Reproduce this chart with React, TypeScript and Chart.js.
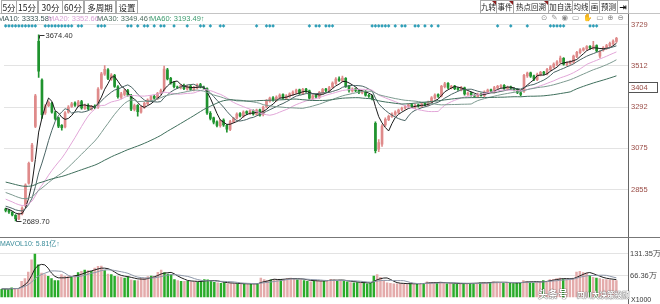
import React, { useEffect, useRef } from "react";
import { Chart, registerables } from "chart.js";

Chart.register(...registerables);

// ---------------- data ----------------
// closes before the visible window (used only to warm up the moving averages)
const priorCloses = [
  2980, 2992, 2975, 2986, 2970, 2978, 2965, 2972, 2960, 2968,
  2955, 2962, 2950, 2958, 2946, 2952, 2940, 2948, 2936, 2944,
  2932, 2940, 2928, 2936, 2924, 2932, 2920, 2928, 2916, 2922,
  2930, 2918, 2925, 2912, 2918, 2905, 2910, 2898, 2905, 2892,
  2880, 2868, 2872, 2855, 2846, 2838, 2830, 2820, 2812, 2800,
  2792, 2785, 2778, 2770, 2775, 2762, 2768, 2756, 2750,
];

const opens = [
  2752, 2746, 2736, 2720, 2700, 2728, 2770, 2890, 3010, 3190,
  3640, 3436, 3262, 3300, 3312, 3262, 3236, 3196, 3188, 3266,
  3296, 3314, 3300, 3322, 3286, 3302, 3282, 3298, 3292, 3392,
  3466, 3490, 3440, 3460, 3400, 3344, 3360, 3380, 3354, 3280,
  3302, 3266, 3292, 3310, 3328, 3350, 3338, 3366, 3384, 3490,
  3444, 3422, 3398, 3394, 3408, 3388, 3404, 3384, 3394, 3412,
  3398, 3390, 3260, 3236, 3214, 3194, 3224, 3196, 3174, 3214,
  3234, 3258, 3244, 3268, 3258, 3274, 3254, 3278, 3252, 3294,
  3324, 3342, 3328, 3344, 3358, 3338, 3350, 3360, 3370, 3384,
  3364, 3388, 3378, 3338, 3354, 3344, 3368, 3388, 3378, 3398,
  3418, 3442, 3432, 3444, 3404, 3378, 3390, 3382, 3368, 3376,
  3354, 3352, 3206, 3070, 3096, 3198, 3226, 3242, 3254, 3264,
  3280, 3288, 3296, 3306, 3290, 3304, 3296, 3312, 3304, 3320,
  3340, 3358, 3352, 3400, 3418, 3394, 3404, 3392, 3384, 3394,
  3360, 3368, 3354, 3348, 3362, 3354, 3370, 3384, 3374, 3394,
  3400, 3408, 3388, 3400, 3390, 3386, 3368, 3376, 3458, 3474,
  3458, 3438, 3464, 3478, 3468, 3490, 3504, 3518, 3530, 3550,
  3518, 3524, 3530, 3560, 3580, 3594, 3600, 3614, 3604, 3618,
  3562, 3594, 3604, 3616, 3628, 3640,
];

const highs = [
  2758, 2750, 2740, 2724, 2732, 2764, 2886, 3002, 3100, 3360,
  3674.4, 3442, 3306, 3326, 3318, 3270, 3240, 3200, 3268, 3300,
  3318, 3320, 3328, 3328, 3308, 3310, 3302, 3304, 3396, 3476,
  3512, 3496, 3470, 3466, 3406, 3370, 3386, 3386, 3360, 3308,
  3306, 3296, 3318, 3336, 3354, 3356, 3370, 3388, 3510, 3498,
  3450, 3428, 3404, 3412, 3414, 3408, 3410, 3402, 3416, 3418,
  3404, 3394, 3268, 3240, 3220, 3228, 3230, 3200, 3222, 3238,
  3262, 3264, 3272, 3272, 3278, 3278, 3282, 3282, 3298, 3332,
  3346, 3348, 3352, 3362, 3362, 3358, 3368, 3378, 3388, 3388,
  3392, 3392, 3382, 3358, 3358, 3376, 3392, 3392, 3402, 3426,
  3448, 3452, 3456, 3448, 3408, 3394, 3394, 3386, 3380, 3380,
  3360, 3356, 3215, 3120, 3200, 3236, 3250, 3262, 3272, 3282,
  3292, 3300, 3310, 3312, 3308, 3308, 3316, 3318, 3324, 3348,
  3362, 3362, 3408, 3424, 3422, 3408, 3408, 3396, 3402, 3398,
  3372, 3372, 3358, 3366, 3366, 3378, 3388, 3388, 3402, 3408,
  3412, 3412, 3404, 3404, 3394, 3390, 3372, 3466, 3478, 3478,
  3462, 3472, 3482, 3482, 3498, 3512, 3526, 3538, 3562, 3554,
  3532, 3538, 3568, 3588, 3602, 3608, 3618, 3618, 3640, 3622,
  3592, 3612, 3624, 3636, 3648, 3662,
];

const lows = [
  2738, 2730, 2716, 2689.7, 2696, 2722, 2764, 2884, 3004, 3184,
  3450, 3232, 3254, 3294, 3260, 3224, 3184, 3170, 3182, 3260,
  3290, 3296, 3294, 3282, 3280, 3278, 3276, 3284, 3286, 3386,
  3460, 3438, 3434, 3396, 3340, 3336, 3352, 3350, 3274, 3272,
  3244, 3260, 3286, 3304, 3322, 3334, 3332, 3360, 3378, 3436,
  3414, 3394, 3390, 3388, 3384, 3382, 3380, 3378, 3388, 3394,
  3386, 3254, 3224, 3204, 3188, 3186, 3190, 3160, 3168, 3208,
  3228, 3240, 3238, 3252, 3252, 3250, 3248, 3244, 3246, 3288,
  3318, 3324, 3322, 3338, 3334, 3332, 3344, 3354, 3364, 3360,
  3358, 3370, 3334, 3332, 3340, 3338, 3362, 3374, 3372, 3392,
  3412, 3428, 3426, 3396, 3372, 3372, 3374, 3364, 3362, 3350,
  3344, 3330, 3050, 3056, 3084, 3190, 3220, 3238, 3248, 3258,
  3274, 3282, 3290, 3290, 3284, 3292, 3290, 3300, 3298, 3314,
  3334, 3344, 3346, 3394, 3390, 3388, 3384, 3380, 3378, 3356,
  3354, 3350, 3344, 3342, 3350, 3348, 3364, 3370, 3368, 3388,
  3394, 3384, 3382, 3386, 3378, 3364, 3352, 3370, 3450, 3450,
  3432, 3432, 3458, 3462, 3462, 3484, 3498, 3512, 3524, 3514,
  3512, 3518, 3524, 3554, 3574, 3588, 3594, 3598, 3598, 3584,
  3552, 3588, 3598, 3610, 3622, 3634,
];

const closes = [
  2745, 2738, 2722, 2702, 2726, 2758, 2880, 2995, 3092, 3352,
  3482, 3252, 3298, 3318, 3266, 3232, 3192, 3184, 3262, 3292,
  3310, 3302, 3320, 3288, 3300, 3284, 3296, 3290, 3388, 3468,
  3492, 3444, 3462, 3402, 3348, 3362, 3378, 3356, 3282, 3300,
  3268, 3290, 3312, 3330, 3348, 3340, 3365, 3380, 3494, 3442,
  3420, 3400, 3396, 3406, 3390, 3402, 3386, 3396, 3410, 3400,
  3394, 3262, 3232, 3212, 3196, 3222, 3198, 3176, 3216, 3232,
  3256, 3246, 3266, 3260, 3272, 3256, 3276, 3250, 3292, 3326,
  3340, 3330, 3346, 3356, 3340, 3352, 3362, 3372, 3382, 3366,
  3386, 3376, 3340, 3352, 3346, 3370, 3386, 3380, 3396, 3420,
  3440, 3434, 3446, 3402, 3380, 3388, 3380, 3370, 3374, 3356,
  3350, 3336, 3062, 3104, 3192, 3228, 3244, 3256, 3266, 3276,
  3286, 3294, 3304, 3296, 3302, 3298, 3310, 3306, 3318, 3342,
  3356, 3350, 3402, 3416, 3396, 3402, 3390, 3386, 3396, 3362,
  3366, 3356, 3350, 3360, 3356, 3372, 3382, 3376, 3396, 3402,
  3406, 3390, 3398, 3392, 3384, 3370, 3360, 3460, 3472, 3456,
  3440, 3466, 3476, 3470, 3492, 3506, 3520, 3532, 3552, 3520,
  3526, 3532, 3562, 3582, 3596, 3602, 3612, 3606, 3616, 3590,
  3588, 3606, 3618, 3630, 3642, 3656,
];

// volume in 万 (axis units)
const volumes = [
  26, 26, 25, 30, 27, 28, 50, 58, 78, 115,
  132, 100, 75, 70, 65, 58, 52, 52, 70, 65,
  64, 63, 67, 76, 80, 84, 82, 80, 90, 95,
  96, 82, 72, 70, 65, 64, 63, 60, 63, 54,
  52, 52, 58, 60, 64, 66, 65, 77, 84, 76,
  72, 70, 55, 52, 50, 50, 50, 48, 48, 47,
  50, 55, 54, 50, 47, 45, 44, 46, 42, 43,
  42, 42, 40, 42, 41, 42, 40, 42, 60, 55,
  52, 54, 55, 56, 55, 56, 58, 60, 56, 54,
  55, 52, 50, 48, 50, 52, 50, 50, 52, 56,
  54, 50, 52, 50, 48, 46, 45, 46, 44, 45,
  42, 44, 66, 70, 62, 52, 45, 44, 42, 42,
  43, 42, 40, 42, 41, 42, 44, 42, 48, 46,
  45, 44, 46, 45, 42, 43, 42, 41, 42, 43,
  42, 44, 43, 44, 45, 46, 44, 47, 48, 46,
  45, 44, 46, 44, 43, 44, 45, 52, 50, 46,
  45, 47, 48, 52, 50, 55, 56, 58, 60, 56,
  55, 54, 60, 78, 80, 76, 75, 68, 62, 60,
  58, 56, 55, 54, 53, 52,
];

// sessions carrying a signal diamond in the top strip
const signalDays = [
  0, 1, 2, 3, 4, 5, 6, 7, 8, 9, 12, 13, 14, 15, 16, 17, 18, 19, 20, 22, 23,
  28, 29, 30, 37, 38, 40, 42, 43, 45, 47, 48, 51, 55, 59, 60, 62, 65, 66, 76,
  79, 80, 81, 92, 94, 95, 97, 98, 99, 111, 112, 113, 114, 115, 116, 118, 120,
  121, 124, 125, 127, 129, 131, 149, 153, 158, 165, 166, 167, 168, 169, 177,
  178, 179,
];
const signalLevel = 3722;

const priceTicks = [2855, 3075, 3292, 3512, 3729];
const volumeTicks = [66.36, 131.35];
const emptyTrailingSlots = 3;
const sessionLabels = Array.from(
  { length: closes.length + emptyTrailingSlots },
  (_, i) => `T${i + 1}`
);

const maLegend = [
  { label: "MA10", value: "3333.58", color: "#3d5656", x: -2 },
  { label: "MA20", value: "3352.66", color: "#d9a3d6", x: 48 },
  { label: "MA30", value: "3349.46", color: "#4e6e60", x: 97 },
  { label: "MA60", value: "3193.49", color: "#3a9a6c", x: 150 },
];

// ---------------- helpers ----------------
function movingAverage(all: number[], period: number, offset: number, count: number) {
  const out: number[] = [];
  for (let i = 0; i < count; i++) {
    const end = offset + i;
    let s = 0;
    for (let k = end - period + 1; k <= end; k++) s += all[k];
    out.push(s / period);
  }
  return out;
}
function runningAverage(values: number[], period: number) {
  return values.map((_, i) => {
    const start = Math.max(0, i - period + 1);
    const slice = values.slice(start, i + 1);
    return slice.reduce((a, b) => a + b, 0) / slice.length;
  });
}

const UP = "#df8a8a";
const DOWN = "#1f932e";
const VOL_UP = "#e4abab";
const VOL_DOWN = "#2aab2a";
const isUp = (i: number) => closes[i] >= opens[i];

const leftButtons = [
  { t: "5分", x: 1, w: 16 },
  { t: "15分", x: 16, w: 22 },
  { t: "30分", x: 38, w: 25 },
  { t: "60分", x: 62, w: 22 },
  { t: "多周期", x: 84, w: 32 },
  { t: "设置", x: 116, w: 22 },
];
const rightButtons = [
  { t: "九转", x: 480, w: 17, flag: true },
  { t: "事件", x: 496, w: 18, flag: true },
  { t: "热点回溯", x: 513, w: 36, flag: true },
  { t: "加自选", x: 548, w: 25, flag: false },
  { t: "均线", x: 572, w: 18, flag: false },
  { t: "画", x: 589, w: 11, flag: false },
  { t: "预测", x: 599, w: 19, flag: false },
];

export default function App() {
  const priceRef = useRef<HTMLCanvasElement | null>(null);
  const volRef = useRef<HTMLCanvasElement | null>(null);

  useEffect(() => {
    document.body.style.margin = "0";
    Chart.defaults.font.family = '"Liberation Sans", Arial, sans-serif';

    const allCloses = [...priorCloses, ...closes];
    const off = priorCloses.length;
    const n = closes.length;
    const ma5 = movingAverage(allCloses, 5, off, n);
    const ma10 = movingAverage(allCloses, 10, off, n);
    const ma20 = movingAverage(allCloses, 20, off, n);
    const ma30 = movingAverage(allCloses, 30, off, n);
    const ma60 = movingAverage(allCloses, 60, off, n);
    const markers = closes.map((_, i) => (signalDays.includes(i) ? signalLevel : null));

    const extremesPlugin = {
      id: "extremes",
      afterDatasetsDraw(chart: any) {
        const { ctx, scales } = chart;
        const xs = scales.x;
        const ys = scales.y;
        let hi = 0;
        let lo = 0;
        highs.forEach((h, i) => { if (h > highs[hi]) hi = i; });
        lows.forEach((l, i) => { if (l < lows[lo]) lo = i; });
        ctx.save();
        ctx.strokeStyle = "#333";
        ctx.fillStyle = "#333";
        ctx.lineWidth = 1;
        ctx.font = '7.5px "Liberation Sans", Arial, sans-serif';
        ctx.textBaseline = "middle";
        const hx = Math.round(xs.getPixelForValue(hi)) + 0.5;
        const hy = Math.round(ys.getPixelForValue(highs[hi])) + 0.5;
        ctx.beginPath();
        ctx.moveTo(hx, hy + 3);
        ctx.lineTo(hx, hy);
        ctx.lineTo(hx + 5, hy);
        ctx.stroke();
        ctx.fillText(highs[hi].toFixed(2), hx + 6, hy);
        const lx = Math.round(xs.getPixelForValue(lo)) + 0.5;
        const ly = Math.round(ys.getPixelForValue(lows[lo])) + 0.5;
        ctx.beginPath();
        ctx.moveTo(lx, ly - 3);
        ctx.lineTo(lx, ly);
        ctx.lineTo(lx + 5, ly);
        ctx.stroke();
        ctx.fillText(lows[lo].toFixed(2), lx + 6, ly);
        ctx.restore();
      },
    };

    const lineDs = (data: number[], color: string) => ({
      type: "line" as const,
      data,
      borderColor: color,
      borderWidth: 1,
      pointRadius: 0,
      tension: 0,
      order: 1,
    });

    const price = new Chart(priceRef.current as HTMLCanvasElement, {
      type: "bar",
      data: {
        labels: sessionLabels,
        datasets: [
          {
            type: "bar",
            data: lows.map((l, i) => [l, highs[i]]) as any,
            backgroundColor: (c: any) => (isUp(c.dataIndex) ? UP : DOWN),
            barThickness: 1,
            grouped: false,
            order: 3,
          } as any,
          {
            type: "bar",
            data: opens.map((o, i) => [o, closes[i]]) as any,
            backgroundColor: (c: any) => (isUp(c.dataIndex) ? UP : DOWN),
            barThickness: 2,
            grouped: false,
            order: 2,
          } as any,
          lineDs(ma60, "#3f6f5c"),
          lineDs(ma30, "#7d9a90"),
          lineDs(ma20, "#e2a6d8"),
          lineDs(ma10, "#4a6464"),
          lineDs(ma5, "#1a1a1a"),
          {
            type: "line",
            data: markers as any,
            showLine: false,
            pointStyle: "rectRot",
            pointRadius: 1.8,
            pointBackgroundColor: "#2f9fb8",
            pointBorderWidth: 0,
            order: 0,
          } as any,
        ],
      },
      options: {
        animation: false,
        responsive: false,
        maintainAspectRatio: false,
        events: [],
        layout: { padding: { top: 20, bottom: 1, left: 0, right: 0 } },
        plugins: { legend: { display: false }, tooltip: { enabled: false } },
        scales: {
          x: { display: false, offset: true },
          y: {
            position: "right",
            min: 2639.3,
            max: 3753.3,
            afterFit: (s: any) => { s.width = 32; },
            afterBuildTicks: (s: any) => { s.ticks = priceTicks.map((v) => ({ value: v })); },
            grid: { color: "#e3e3e3", drawTicks: false, tickLength: 0 },
            border: { display: false },
            ticks: {
              color: "#9a4c46",
              font: { size: 7.5 },
              padding: 3,
              callback: (v: any) => String(v),
            },
          },
        },
      } as any,
      plugins: [extremesPlugin],
    });

    const mavol5 = runningAverage(volumes, 5);
    const mavol10 = runningAverage(volumes, 10);

    const vol = new Chart(volRef.current as HTMLCanvasElement, {
      type: "bar",
      data: {
        labels: sessionLabels,
        datasets: [
          {
            type: "bar",
            data: volumes,
            backgroundColor: (c: any) => (isUp(c.dataIndex) ? VOL_UP : VOL_DOWN),
            barPercentage: 0.75,
            categoryPercentage: 1,
            order: 2,
          } as any,
          lineDs(mavol10, "#8c96a8"),
          lineDs(mavol5, "#202020"),
        ],
      },
      options: {
        animation: false,
        responsive: false,
        maintainAspectRatio: false,
        events: [],
        layout: { padding: { top: 0, bottom: 2, left: 0, right: 0 } },
        plugins: { legend: { display: false }, tooltip: { enabled: false } },
        scales: {
          x: { display: false, offset: true },
          y: {
            position: "right",
            min: 0,
            max: 160,
            afterFit: (s: any) => { s.width = 32; },
            afterBuildTicks: (s: any) => { s.ticks = volumeTicks.map((v) => ({ value: v })); },
            grid: { color: "#e3e3e3", drawTicks: false, tickLength: 0 },
            border: { display: false },
            ticks: {
              color: "#444",
              font: { size: 7.5 },
              padding: 2,
              callback: (v: any) => `${v}万`,
            },
          },
        },
      } as any,
    });

    return () => {
      price.destroy();
      vol.destroy();
    };
  }, []);

  const btnBase: React.CSSProperties = {
    position: "absolute",
    top: 0,
    height: 14,
    boxSizing: "border-box",
    border: "1px solid #a9a9a9",
    textAlign: "center",
    color: "#222",
    fontFamily: '"Noto Sans CJK SC", sans-serif',
    lineHeight: "12px",
    background: "#fff",
    whiteSpace: "nowrap",
    overflow: "hidden",
  };

  return (
    <div
      style={{
        position: "fixed",
        left: 0,
        top: 0,
        width: 660,
        height: 304,
        background: "#fff",
        overflow: "hidden",
        fontFamily: '"Liberation Sans", Arial, sans-serif',
      }}
    >
      <canvas ref={priceRef} width={660} height={238} style={{ position: "absolute", left: 0, top: 0 }} />
      <canvas ref={volRef} width={660} height={66} style={{ position: "absolute", left: 0, top: 238 }} />

      {/* toolbar */}
      <div style={{ position: "absolute", left: 0, top: 13, width: 660, height: 1, background: "#c4c4c4" }} />
      {leftButtons.map((b) => (
        <div key={b.t} style={{ ...btnBase, left: b.x, width: b.w, fontSize: 8.5 }}>{b.t}</div>
      ))}
      {rightButtons.map((b) => (
        <div key={b.t} style={{ ...btnBase, left: b.x, width: b.w, fontSize: 7.5 }}>
          {b.t}
          {b.flag && (
            <div
              style={{
                position: "absolute",
                right: 0,
                top: 0,
                width: 0,
                height: 0,
                borderTop: "4px solid #8a1c1c",
                borderLeft: "4px solid transparent",
              }}
            />
          )}
        </div>
      ))}
      <div
        style={{
          ...btnBase,
          left: 617,
          width: 12,
          fontSize: 9,
          fontWeight: "bold",
          color: "#111",
          fontFamily: '"DejaVu Sans", sans-serif',
        }}
      >
        ⇥
      </div>

      {/* MA legend */}
      {maLegend.map((m) => (
        <div
          key={m.label}
          style={{
            position: "absolute",
            left: m.x,
            top: 14,
            fontSize: 7.5,
            lineHeight: "9px",
            color: m.color,
            whiteSpace: "nowrap",
          }}
        >
          {`${m.label}: ${m.value}↑`}
        </div>
      ))}
      <div
        style={{
          position: "absolute",
          left: 541,
          top: 13,
          fontSize: 7.5,
          lineHeight: "10px",
          color: "#8a8a8a",
          letterSpacing: 4,
          whiteSpace: "nowrap",
          fontFamily: '"DejaVu Sans", sans-serif',
        }}
      >
        ⊙✎◉▭✋▭⊕⊖
      </div>

      {/* frame lines */}
      <div style={{ position: "absolute", left: 628, top: 14, width: 1, height: 290, background: "#666" }} />
      <div style={{ position: "absolute", left: 0, top: 237, width: 660, height: 1, background: "#777" }} />

      {/* highlighted price box */}
      <div
        style={{
          position: "absolute",
          left: 629,
          top: 82,
          width: 29,
          height: 11,
          boxSizing: "border-box",
          borderTop: "1px solid #555",
          borderBottom: "1px solid #555",
          borderRight: "1px solid #555",
          fontSize: 7.5,
          lineHeight: "9px",
          color: "#9a4c46",
          paddingLeft: 2,
        }}
      >
        3404
      </div>

      {/* volume panel texts */}
      <div
        style={{
          position: "absolute",
          left: 0,
          top: 239,
          fontSize: 7,
          lineHeight: "9px",
          color: "#3a8c9a",
          whiteSpace: "nowrap",
          fontFamily: '"Liberation Sans", "Noto Sans CJK SC", sans-serif',
        }}
      >
        MAVOL10: 5.81亿↑
      </div>
      <div style={{ position: "absolute", left: 631, top: 295, fontSize: 7, lineHeight: "9px", color: "#333" }}>
        X1000
      </div>

      {/* watermark */}
      <div
        style={{
          position: "absolute",
          left: 538,
          top: 287,
          fontSize: 10,
          fontWeight: "bold",
          lineHeight: "14px",
          color: "#fff",
          textShadow: "0 0 1px #444, 0 0 1px #444",
          fontFamily: '"Noto Sans CJK SC", sans-serif',
          whiteSpace: "nowrap",
        }}
      >
        头条号
      </div>
      <div
        style={{
          position: "absolute",
          left: 577,
          top: 289,
          fontSize: 7.5,
          fontWeight: "bold",
          lineHeight: "12px",
          color: "#fff",
          textShadow: "0 0 1px #444, 0 0 1px #444",
          fontFamily: '"Noto Sans CJK SC", sans-serif',
          whiteSpace: "nowrap",
        }}
      >
        四川大决策投顾
      </div>
    </div>
  );
}
